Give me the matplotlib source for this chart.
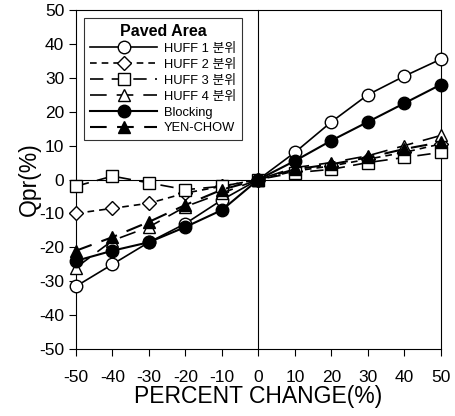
import numpy as np
import matplotlib
matplotlib.use("Agg")
import matplotlib.pyplot as plt

plt.rcParams['font.family'] = ['Liberation Sans', 'Noto Sans CJK KR', 'DejaVu Sans']
plt.rcParams['axes.unicode_minus'] = False

# percent change of input (x) and resulting Qpr change (%)
pct_change = [-50, -40, -30, -20, -10, 0, 10, 20, 30, 40, 50]
huff1 = [-31.5, -25, -18.5, -13, -6, 0, 8, 17, 25, 30.5, 35.5]
huff2 = [-10, -8.5, -7, -4, -2, 0, 2.5, 4, 6, 8, 10.5]
huff3 = [-2, 1, -1, -3, -2, 0, 2, 3, 5, 6.5, 8]
huff4 = [-26, -18, -14, -8, -4, 0, 3.5, 5, 7, 10, 13]
blocking = [-24, -21, -18.5, -14, -9, 0, 5.5, 11.5, 17, 22.5, 28]
yen_chow = [-21, -17, -12.5, -7.5, -3, 0, 3, 4.5, 6.5, 9, 11]

labels = ["HUFF 1 분위", "HUFF 2 분위", "HUFF 3 분위", "HUFF 4 분위", "Blocking", "YEN-CHOW"]

fig = plt.figure(figsize=(4.55, 4.16), dpi=100)
ax = fig.add_axes([0.167, 0.161, 0.802, 0.815])

ms = 9
ax.plot(pct_change, huff1, color="black", lw=1.2, ls="-", marker="o", ms=ms,
        mfc="white", mec="black", label=labels[0], zorder=3)
ax.plot(pct_change, huff2, color="black", lw=1.2, ls=(0, (4, 3)), marker="D", ms=7,
        mfc="white", mec="black", label=labels[1], zorder=3)
ax.plot(pct_change, huff3, color="black", lw=1.2, ls=(0, (8, 5)), marker="s", ms=ms,
        mfc="white", mec="black", label=labels[2], zorder=3)
ax.plot(pct_change, huff4, color="black", lw=1.2, ls=(0, (10, 6)), marker="^", ms=ms,
        mfc="white", mec="black", label=labels[3], zorder=3)
ax.plot(pct_change, blocking, color="black", lw=1.5, ls="-", marker="o", ms=ms,
        mfc="black", mec="black", label=labels[4], zorder=4)
ax.plot(pct_change, yen_chow, color="black", lw=1.5, ls=(0, (8, 5)), marker="^", ms=ms,
        mfc="black", mec="black", label=labels[5], zorder=4)

ax.axhline(0, color="black", lw=0.8, zorder=1)
ax.axvline(0, color="black", lw=0.8, zorder=1)

ax.set_xlim(-50, 50)
ax.set_ylim(-50, 50)
ax.set_xticks(np.arange(-50, 51, 10))
ax.set_yticks(np.arange(-50, 51, 10))
ax.tick_params(direction="out", length=5, width=0.8, labelsize=12.5)
ax.tick_params(axis="x", pad=10)
for sp in ax.spines.values():
    sp.set_linewidth(0.8)
for ln in ax.lines:
    ln.set_clip_on(False)

ax.set_xlabel("PERCENT CHANGE(%)", fontsize=16.5, labelpad=0)
ax.set_ylabel("Qpr(%)", fontsize=16.5, labelpad=-1)

leg = ax.legend(loc="upper left", title="Paved Area", fontsize=9.3,
                title_fontproperties={"weight": "bold", "size": 11.5},
                frameon=True, fancybox=False, edgecolor="black",
                handlelength=5.2, borderpad=0.45, labelspacing=0.3,
                handletextpad=0.5, bbox_to_anchor=(0.005, 0.995))
leg.get_frame().set_linewidth(0.8)

fig.savefig("out.png", dpi=100)
